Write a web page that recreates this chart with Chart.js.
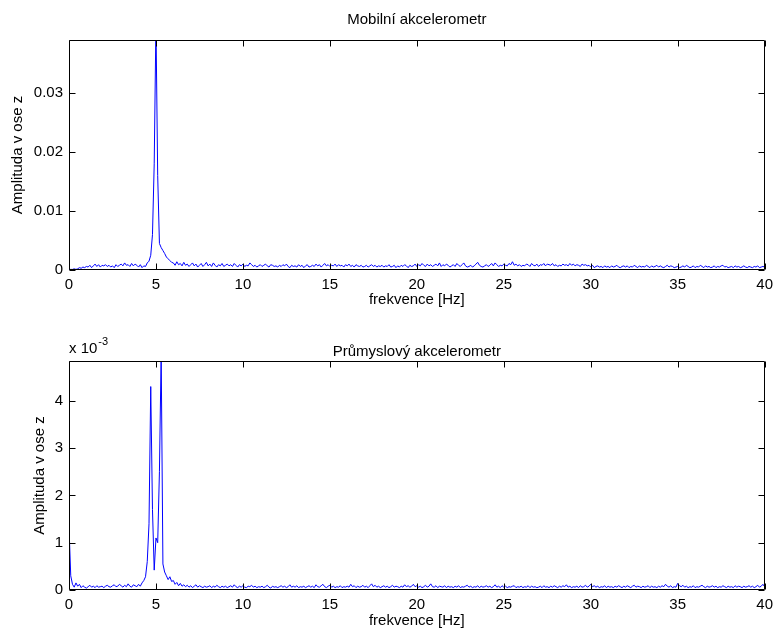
<!DOCTYPE html>
<html>
<head>
<meta charset="utf-8">
<title>Amplitudové spektrum</title>
<script src="https://cdn.jsdelivr.net/npm/chart.js@4.4.1/dist/chart.umd.min.js"></script>
<style>
  html, body { margin: 0; padding: 0; background: #fff; }
  #wrap { position: relative; width: 779px; height: 635px; }
  .panel { position: absolute; left: 0; width: 779px; }
  #top { top: 0; height: 318px; }
  #bottom { top: 318px; height: 317px; }
</style>
</head>
<body>
<div id="wrap">
  <div class="panel" id="top"><canvas id="mobileChart" width="779" height="318"></canvas></div>
  <div class="panel" id="bottom"><canvas id="industrialChart" width="779" height="317"></canvas></div>
</div>
<script>
// spectrum sampled every 0.1 Hz, from 0 to 40 Hz
const FREQ_STEP = 0.1;
const freqTicks = [0, 5, 10, 15, 20, 25, 30, 35, 40];

// mobile accelerometer amplitude, units of 1e-4
const mobileAmp = [
  1,1,1,2,1,2,4,3,5,4,
  6,5,8,4,7,10,6,9,5,8,
  7,9,6,8,5,7,4,9,6,8,
  10,7,12,8,9,6,11,7,10,8,
  5,9,4,7,6,12,15,25,60,180,
  420,160,45,38,33,28,22,19,16,13,
  12,8,14,9,11,7,13,8,10,6,
  9,12,7,10,5,8,11,6,9,13,
  7,10,6,12,8,5,9,7,11,6,
  8,10,7,9,6,11,8,5,9,7,
  10,6,8,7,12,9,6,8,5,7,
  9,6,8,10,7,5,9,8,6,7,
  5,8,6,9,7,10,6,4,8,6,
  7,5,9,6,8,4,7,9,5,6,
  8,6,10,7,9,5,8,11,7,9,
  6,8,7,10,6,9,7,8,5,9,
  7,10,6,8,5,9,7,6,8,5,
  6,8,5,7,9,6,8,5,7,6,
  8,5,7,6,9,5,6,8,4,7,
  5,8,6,9,7,4,8,6,7,10,
  6,9,7,11,8,6,10,7,9,6,
  8,10,7,12,6,9,7,10,8,5,
  7,9,6,11,8,6,9,12,7,5,
  6,8,5,7,10,13,8,6,5,7,
  9,6,8,11,7,12,9,6,8,7,
  10,8,7,11,9,14,8,10,7,9,
  6,8,7,10,9,6,11,8,7,10,
  6,9,8,11,7,10,9,8,11,7,
  9,6,8,7,10,8,9,7,11,8,
  10,7,9,8,6,10,8,9,7,8,
  5,8,4,6,7,5,6,4,7,5,
  6,4,7,5,6,8,5,4,6,7,
  5,7,4,6,5,8,6,4,7,5,
  6,5,8,6,4,7,5,6,8,5,
  7,5,4,6,8,5,7,6,4,5,
  6,4,5,7,5,8,6,4,5,7,
  4,6,5,8,6,4,7,5,6,4,
  5,7,4,6,5,7,8,5,6,4,
  5,6,4,7,5,6,4,5,7,5,
  4,6,5,4,6,5,7,4,5,6,
  5
];
const mobileTicks = [0, 0.01, 0.02, 0.03];
const MOBILE_MAX = 0.039;

// industrial accelerometer amplitude, units of 1e-5
const industrialAmp = [
  134,30,12,6,15,8,12,5,9,6,
  4,7,10,6,8,5,9,6,7,8,
  5,8,10,7,6,9,11,7,8,12,
  9,6,10,7,13,8,6,11,9,7,
  12,8,15,20,28,60,140,430,170,42,
  110,100,250,500,55,38,30,22,28,18,
  20,12,16,9,14,8,11,7,10,6,
  9,5,8,11,6,9,7,5,8,6,
  7,9,5,8,6,10,7,5,8,6,
  8,5,7,9,6,11,7,5,8,6,
  9,6,5,8,7,10,6,8,5,7,
  6,8,5,7,10,6,4,8,6,7,
  5,7,9,6,8,5,7,11,6,8,
  6,9,5,7,6,8,5,7,9,6,
  8,5,11,7,6,9,12,7,5,8,
  10,6,8,5,7,6,9,5,7,6,
  8,6,12,7,9,5,8,6,7,10,
  6,8,5,9,13,7,10,6,8,5,
  7,9,6,8,5,7,10,6,8,7,
  5,8,6,11,7,9,6,8,12,7,
  9,6,8,5,7,10,6,8,13,7,
  6,9,5,8,7,6,9,5,8,6,
  7,5,8,6,9,5,7,6,8,10,
  6,8,5,7,6,9,5,8,6,7,
  9,6,8,5,7,11,6,8,5,9,
  6,8,5,7,6,8,9,5,7,6,
  8,5,7,6,9,5,8,6,7,5,
  6,8,5,9,6,7,5,8,6,9,
  7,5,8,6,9,7,11,6,8,5,
  7,6,8,5,9,6,7,10,6,8,
  12,7,9,6,8,5,7,6,9,5,
  8,6,7,5,8,6,9,7,5,8,
  6,9,7,5,8,10,6,8,7,5,
  8,6,7,9,5,8,6,7,5,8,
  6,9,7,12,8,6,9,5,7,6,
  14,9,7,10,6,8,5,7,6,9,
  5,7,6,8,10,7,5,8,6,7,
  9,6,8,5,7,6,9,7,5,8,
  6,7,5,9,6,8,7,5,8,6,
  7,9,6,8,5,7,10,6,8,12,
  7
];
// plotted in units of 1e-3, with the multiplier shown above the axis
const industrialTicks = [0, 1, 2, 3, 4];
const INDUSTRIAL_MAX = 4.84;

const FONT = "'Liberation Sans', Arial, Helvetica, sans-serif";
Chart.defaults.font.family = FONT;
Chart.defaults.font.size = 15;
Chart.defaults.color = '#000';

function toPoints(values, scale) {
  return values.map((v, i) => ({ x: i * FREQ_STEP, y: v * scale }));
}

// box around the plot area, inward tick marks on all four sides, and the texts
const matlabAxes = {
  id: 'matlabAxes',
  afterDraw(chart, args, opts) {
    const { ctx, chartArea: a } = chart;
    const xs = chart.scales.x, ys = chart.scales.y;
    const L = Math.round(a.left) + 0.5, R = Math.round(a.right) - 0.5;
    const T = Math.round(a.top) + 0.5, B = Math.round(a.bottom) - 0.5;
    const len = 6;
    ctx.save();
    ctx.strokeStyle = '#000';
    ctx.lineWidth = 1;
    ctx.beginPath();
    ctx.rect(L, T, R - L, B - T);
    xs.ticks.forEach(t => {
      const px = Math.round(xs.getPixelForValue(t.value)) + 0.5;
      ctx.moveTo(px, B); ctx.lineTo(px, B - len);
      ctx.moveTo(px, T); ctx.lineTo(px, T + len);
    });
    ys.ticks.forEach(t => {
      const py = Math.round(ys.getPixelForValue(t.value)) + 0.5;
      ctx.moveTo(L, py); ctx.lineTo(L + len, py);
      ctx.moveTo(R, py); ctx.lineTo(R - len, py);
    });
    ctx.stroke();

    const cx = (a.left + a.right) / 2;
    ctx.fillStyle = '#000';
    ctx.font = '15px ' + FONT;
    ctx.textAlign = 'center';
    ctx.textBaseline = 'middle';
    ctx.fillText(opts.title, cx, opts.titleY);
    ctx.fillText(opts.xLabel, cx, opts.xLabelY);

    ctx.save();
    ctx.translate(opts.yLabelX, (a.top + a.bottom) / 2);
    ctx.rotate(-Math.PI / 2);
    ctx.fillText(opts.yLabel, 0, 0);
    ctx.restore();

    if (opts.exponent) {
      ctx.textAlign = 'left';
      ctx.fillText('x 10', a.left, opts.exponentY);
      const w = ctx.measureText('x 10').width;
      ctx.font = '11px ' + FONT;
      ctx.fillText(opts.exponent, a.left + w + 1, opts.exponentY - 7);
    }
    ctx.restore();
  }
};

function makeChart(canvasId, points, yMax, yTicks, yFormat, pad, xHeight, labels) {
  return new Chart(document.getElementById(canvasId), {
    type: 'line',
    data: {
      datasets: [{
        data: points,
        borderColor: '#0000ff',
        borderWidth: 1,
        pointRadius: 0,
        tension: 0,
        fill: false
      }]
    },
    options: {
      responsive: false,
      animation: false,
      devicePixelRatio: 1,
      layout: { padding: { top: pad, right: 12, left: 0, bottom: 0 } },
      plugins: {
        legend: { display: false },
        tooltip: { enabled: false },
        matlabAxes: labels
      },
      scales: {
        x: {
          type: 'linear',
          min: 0,
          max: 40,
          grid: { display: false, drawTicks: false },
          border: { display: false },
          afterBuildTicks: s => { s.ticks = freqTicks.map(v => ({ value: v })); },
          afterFit: s => { s.height = xHeight; },
          ticks: { padding: 6, maxRotation: 0, callback: v => String(v) }
        },
        y: {
          type: 'linear',
          min: 0,
          max: yMax,
          grid: { display: false, drawTicks: false },
          border: { display: false },
          afterBuildTicks: s => { s.ticks = yTicks.map(v => ({ value: v })); },
          afterFit: s => { s.width = 69; },
          ticks: { padding: 6, callback: yFormat }
        }
      }
    },
    plugins: [matlabAxes]
  });
}

makeChart('mobileChart', toPoints(mobileAmp, 1e-4), MOBILE_MAX, mobileTicks,
  v => (v === 0 ? '0' : v.toFixed(2)), 40, 48,
  { title: 'Mobilní akcelerometr', titleY: 20, xLabel: 'frekvence [Hz]', xLabelY: 300,
    yLabel: 'Amplituda v ose z', yLabelX: 18 });

makeChart('industrialChart', toPoints(industrialAmp, 1e-2), INDUSTRIAL_MAX, industrialTicks,
  v => String(v), 43, 45,
  { title: 'Průmyslový akcelerometr', titleY: 34, xLabel: 'frekvence [Hz]', xLabelY: 303,
    yLabel: 'Amplituda v ose z', yLabelX: 40, exponent: '-3', exponentY: 31 });
</script>
</body>
</html>
